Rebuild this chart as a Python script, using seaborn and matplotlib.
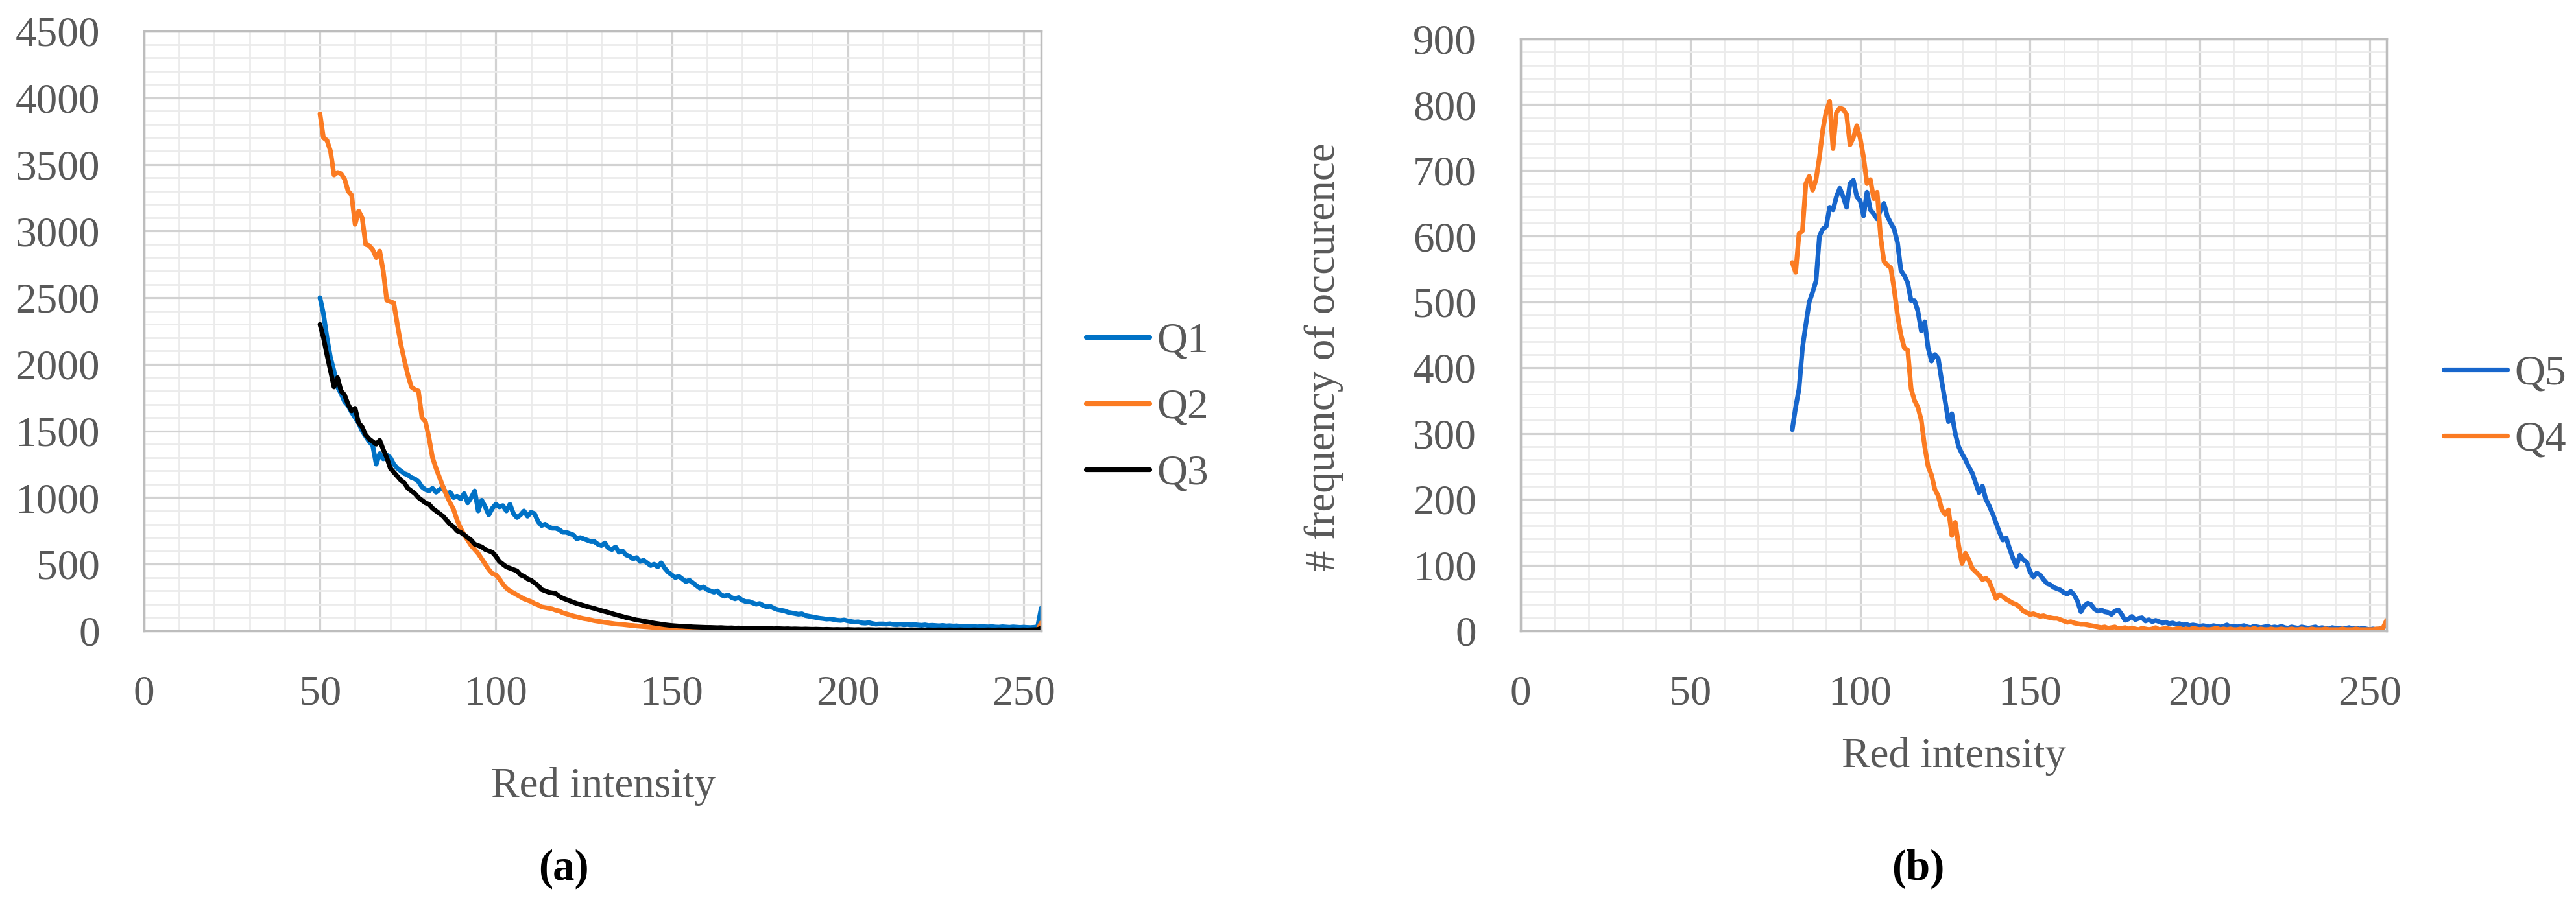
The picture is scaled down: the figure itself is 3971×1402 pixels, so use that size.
import numpy as np
import pandas as pd
import matplotlib
matplotlib.use("Agg")
import matplotlib.pyplot as plt
import seaborn as sns
from matplotlib.ticker import MultipleLocator

# ---- values (one value per red intensity) ----
start_a = 50   # panel (a) starts at intensity 50
start_b = 80   # panel (b) starts at intensity 80

q1 = [
    2500, 2380, 2200, 2050, 1950, 1830, 1780, 1720, 1690, 1640,   # 50
    1600, 1560, 1500, 1460, 1420, 1390, 1250, 1330, 1290, 1320,   # 60
    1300, 1250, 1220, 1200, 1180, 1170, 1150, 1140, 1120, 1080,   # 70
    1060, 1050, 1070, 1040, 1060, 1080, 1020, 1040, 1000, 1010,   # 80
    990, 1030, 960, 1000, 1050, 900, 980, 930, 870, 920,          # 90
    950, 930, 940, 900, 950, 880, 850, 870, 900, 860,             # 100
    890, 880, 820, 790, 800, 780, 770, 770, 760, 740,             # 110
    740, 730, 720, 690, 700, 690, 680, 670, 670, 650,             # 120
    640, 660, 620, 610, 630, 590, 600, 570, 560, 540,             # 130
    550, 520, 530, 510, 490, 500, 480, 510, 470, 440,             # 140
    420, 400, 410, 390, 370, 380, 360, 340, 320, 330,             # 150
    310, 300, 290, 300, 270, 260, 270, 250, 240, 250,             # 160
    230, 220, 220, 210, 200, 205, 190, 180, 185, 170,             # 170
    160, 155, 150, 140, 135, 130, 125, 128, 115, 110,             # 180
    105, 100, 95, 92, 88, 90, 85, 80, 78, 82,                     # 190
    75, 70, 66, 68, 60, 58, 62, 55, 50, 52,                       # 200
    52, 50, 53, 48, 47, 50, 46, 48, 45, 47,                       # 210
    44, 42, 45, 40, 42, 40, 38, 41, 37, 39,                       # 220
    36, 38, 34, 36, 33, 35, 32, 30, 33, 31,                       # 230
    30, 32, 29, 28, 31, 29, 27, 30, 28, 26,                       # 240
    28, 26, 25, 27, 30, 170,                                      # 250
]

q2 = [
    3880, 3700, 3680, 3600, 3420, 3440, 3430, 3390, 3300, 3270,   # 50
    3050, 3150, 3100, 2900, 2890, 2860, 2800, 2850, 2700, 2480,   # 60
    2470, 2460, 2300, 2150, 2030, 1920, 1830, 1810, 1800, 1600,   # 70
    1570, 1450, 1300, 1220, 1150, 1080, 1020, 960, 910, 830,      # 80
    770, 720, 680, 640, 610, 580, 540, 500, 460, 430,             # 90
    420, 390, 350, 320, 300, 285, 270, 255, 240, 230,             # 100
    220, 205, 195, 180, 175, 170, 165, 155, 150, 135,             # 110
    128, 120, 112, 105, 98, 92, 88, 82, 76, 72,                   # 120
    68, 63, 60, 56, 52, 50, 48, 45, 42, 40,                       # 130
    37, 34, 32, 30, 28, 26, 24, 23, 21, 20,                       # 140
    18, 17, 16, 15, 14, 13, 12, 12, 11, 10,                       # 150
    10, 9, 9, 8, 8, 7, 8, 7, 6, 7,                                # 160
    6, 6, 5, 5, 4, 5, 5, 4, 4, 5,                                 # 170
    4, 4, 3, 4, 4, 3, 4, 3, 3, 4,                                 # 180
    3, 3, 4, 3, 3, 2, 3, 3, 2, 3,                                 # 190
    3, 2, 3, 2, 2, 3, 2, 2, 3, 2,                                 # 200
    2, 2, 3, 2, 2, 2, 3, 2, 2, 2,                                 # 210
    2, 3, 2, 2, 2, 2, 3, 2, 2, 2,                                 # 220
    2, 2, 2, 3, 2, 2, 2, 2, 3, 2,                                 # 230
    2, 2, 2, 2, 3, 2, 2, 2, 2, 3,                                 # 240
    2, 3, 4, 6, 8, 60,                                            # 250
]

q3 = [
    2300, 2200, 2070, 1950, 1830, 1900, 1800, 1770, 1700, 1650,   # 50
    1670, 1560, 1530, 1470, 1440, 1420, 1400, 1430, 1360, 1300,   # 60
    1220, 1190, 1160, 1130, 1110, 1070, 1050, 1030, 1000, 980,    # 70
    960, 950, 920, 900, 880, 860, 830, 800, 780, 750,             # 80
    740, 720, 700, 680, 650, 640, 630, 610, 600, 590,             # 90
    560, 520, 500, 480, 470, 460, 450, 420, 410, 390,             # 100
    380, 360, 340, 310, 300, 290, 285, 280, 260, 245,             # 110
    235, 225, 215, 205, 198, 190, 182, 175, 168, 160,             # 120
    152, 145, 138, 130, 122, 115, 108, 100, 95, 88,               # 130
    82, 78, 72, 68, 63, 58, 54, 50, 46, 43,                       # 140
    40, 38, 36, 35, 33, 32, 30, 29, 28, 27,                       # 150
    26, 26, 25, 24, 25, 23, 22, 23, 21, 22,                       # 160
    20, 21, 19, 20, 18, 19, 17, 18, 17, 16,                       # 170
    17, 16, 15, 16, 14, 15, 14, 13, 14, 13,                       # 180
    12, 13, 12, 11, 12, 11, 10, 11, 10, 10,                       # 190
    11, 10, 9, 10, 9, 9, 10, 9, 8, 9,                             # 200
    8, 9, 8, 8, 9, 8, 8, 7, 8, 8,                                 # 210
    7, 8, 7, 8, 7, 7, 8, 7, 7, 8,                                 # 220
    7, 7, 8, 7, 7, 7, 8, 7, 7, 7,                                 # 230
    8, 7, 7, 8, 7, 7, 7, 8, 7, 7,                                 # 240
    8, 7, 8, 9, 10, 20,                                           # 250
]

q5 = [
    306, 340, 368, 430, 466, 500, 515, 532, 600, 611,             # 80
    615, 644, 640, 660, 673, 660, 644, 680, 685, 660,             # 90
    654, 631, 667, 640, 634, 626, 640, 650, 630, 620,             # 100
    611, 590, 548, 540, 529, 502, 502, 486, 456, 470,             # 110
    430, 410, 420, 414, 380, 350, 318, 330, 300, 280,             # 120
    269, 260, 249, 240, 225, 210, 220, 200, 190, 178,             # 130
    164, 150, 138, 141, 125, 110, 98, 115, 108, 105,              # 140
    90, 82, 88, 85, 78, 72, 70, 66, 64, 62,                       # 150
    58, 56, 60, 55, 45, 29, 38, 42, 40, 33,                       # 160
    30, 32, 29, 28, 25, 30, 32, 25, 16, 18,                       # 170
    22, 17, 19, 20, 15, 17, 14, 16, 14, 12,                       # 180
    13, 11, 12, 10, 11, 9, 10, 8, 9, 8,                           # 190
    7, 8, 7, 6, 8, 7, 6, 7, 9, 6,                                 # 200
    7, 6, 7, 8, 6, 5, 7, 6, 5, 6,                                 # 210
    7, 5, 6, 5, 7, 5, 4, 6, 5, 4,                                 # 220
    6, 5, 4, 5, 6, 4, 5, 4, 3, 5,                                 # 230
    4, 4, 3, 4, 5, 3, 4, 3, 4, 3,                                 # 240
    2, 3, 2, 3, 5, 10,                                            # 250
]

q4 = [
    560, 545, 604, 608, 680, 691, 670, 686, 720, 762,             # 80
    790, 805, 733, 788, 795, 793, 785, 739, 750, 768,             # 90
    749, 720, 680, 686, 657, 667, 600, 562, 556, 552,             # 100
    520, 480, 450, 430, 427, 368, 350, 340, 320, 280,             # 110
    250, 237, 215, 205, 185, 177, 184, 145, 165, 130,             # 120
    102, 118, 108, 95, 90, 85, 78, 80, 75, 62,                    # 130
    49, 55, 52, 48, 45, 42, 40, 36, 30, 28,                       # 140
    25, 26, 24, 22, 23, 21, 20, 19, 19, 17,                       # 150
    15, 13, 14, 12, 11, 10, 10, 9, 8, 7,                          # 160
    6, 5, 6, 4, 5, 6, 3, 4, 5, 3,                                 # 170
    4, 3, 2, 4, 3, 2, 3, 5, 2, 3,                                 # 180
    4, 3, 2, 3, 4, 2, 3, 2, 4, 3,                                 # 190
    2, 3, 2, 2, 3, 4, 2, 3, 2, 3,                                 # 200
    2, 2, 3, 2, 3, 2, 4, 2, 3, 2,                                 # 210
    2, 3, 2, 2, 3, 2, 2, 3, 2, 2,                                 # 220
    3, 2, 2, 3, 2, 2, 2, 3, 2, 2,                                 # 230
    2, 2, 3, 2, 2, 2, 3, 2, 2, 2,                                 # 240
    2, 2, 3, 3, 5, 16,                                            # 250
]

x_label = "Red intensity"
y_label_b = "# frequency of occurence"

colors = {"Q1": "#0072c6", "Q2": "#fb7b22", "Q3": "#000000",
          "Q5": "#1766cc", "Q4": "#fb7b22"}

TEXT = "#595959"
FS = 47
LW = 5.2


def long_form(start, series):
    frames = []
    for name, vals in series.items():
        frames.append(pd.DataFrame({"intensity": np.arange(start, start + len(vals)),
                                    "count": vals, "series": name}))
    return pd.concat(frames, ignore_index=True)


def style_axes(ax, ymax, ymajor, yminor):
    ax.set_xlim(0, 255)
    ax.set_ylim(0, ymax)
    ax.xaxis.set_major_locator(MultipleLocator(50))
    ax.xaxis.set_minor_locator(MultipleLocator(10))
    ax.yaxis.set_major_locator(MultipleLocator(ymajor))
    ax.yaxis.set_minor_locator(MultipleLocator(yminor))
    ax.grid(which="major", color="#d2d2d2", lw=2.3)
    ax.grid(which="minor", color="#ebebeb", lw=2.0)
    ax.set_axisbelow(True)
    ax.tick_params(which="major", direction="out", length=16, width=2.3,
                   color="#c8c8c8", labelsize=FS, labelcolor=TEXT, pad=33)
    ax.tick_params(which="minor", length=0)
    for s in ax.spines.values():
        s.set_visible(True)
        s.set_color("#bdbdbd")
        s.set_linewidth(2.5)


sns.set_theme(style="white")
plt.rcParams["font.family"] = ["Liberation Serif", "DejaVu Serif"]

W, H = 3971, 1402
fig = plt.figure(figsize=(W / 100, H / 100), dpi=100)
ax_a = fig.add_axes([222 / W, 1 - 973 / H, (1605 - 222) / W, (973 - 48) / H])
ax_b = fig.add_axes([2344 / W, 1 - 973 / H, (3679 - 2344) / W, (973 - 60) / H])

df_a = long_form(start_a, {"Q1": q1, "Q2": q2, "Q3": q3})
df_b = long_form(start_b, {"Q5": q5, "Q4": q4})

sns.lineplot(data=df_a, x="intensity", y="count", hue="series",
             hue_order=["Q1", "Q2", "Q3"], palette=colors, estimator=None,
             lw=LW, ax=ax_a)
sns.lineplot(data=df_b, x="intensity", y="count", hue="series",
             hue_order=["Q5", "Q4"], palette=colors, estimator=None,
             lw=LW, ax=ax_b)

style_axes(ax_a, 4500, 500, 100)
style_axes(ax_b, 900, 100, 20)

# axis labels
ax_a.set_ylabel("")
ax_a.set_xlabel(x_label, fontsize=FS, color=TEXT)
ax_a.xaxis.set_label_coords(0.512, -0.2595)
ax_a.xaxis.label.set_va("center")

ax_b.set_xlabel(x_label, fontsize=FS, color=TEXT)
ax_b.xaxis.set_label_coords(0.5004, -0.2125)
ax_b.xaxis.label.set_va("center")
ax_b.set_ylabel(y_label_b, fontsize=FS, color=TEXT)
ax_b.yaxis.set_label_coords(-0.227, 0.463)
ax_b.yaxis.label.set_va("center")

# legends to the right of each plot
for ax, x0, yc in [(ax_a, 1674, 629), (ax_b, 3767, 628)]:
    h, l = ax.get_legend_handles_labels()
    leg = ax.legend(h, l, loc="center left", bbox_to_anchor=(x0 / W, 1 - yc / H),
                    bbox_transform=fig.transFigure, frameon=False, fontsize=FS,
                    handlelength=1.5, handletextpad=0.17, labelspacing=0.65,
                    borderpad=0, borderaxespad=0, labelcolor=TEXT)
    for line in leg.get_lines():
        line.set_linewidth(LW)

# panel letters
fig.text(869 / W, 1 - 1340 / H, "(a)", ha="center", va="center",
         fontsize=48, fontweight="bold", color="black")
fig.text(2957 / W, 1 - 1340 / H, "(b)", ha="center", va="center",
         fontsize=48, fontweight="bold", color="black")

fig.savefig("out.png", dpi=100)
